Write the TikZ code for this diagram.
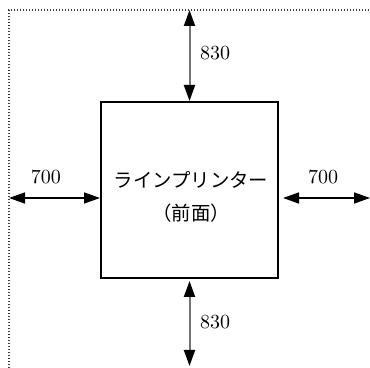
\documentclass[tikz,border=0pt]{standalone}
\usepackage{fontspec}
\newfontfamily\cjk{Noto Sans CJK JP}
\usetikzlibrary{positioning, arrows.meta}
\tikzset{box/.style = {draw, line width=1pt, minimum width=88.5pt, minimum height=88pt, inner sep=0pt},
         dimh/.style = {line width=0.8pt, {Triangle[length=8pt,width=5.5pt]}-{Triangle[length=8pt,width=5.5pt]}},
         dimv/.style = {line width=1pt, black!55, {Triangle[length=8pt,width=5.5pt,black]}-{Triangle[length=8pt,width=5.5pt,black]}},
         dim/.style = {font=\fontsize{10}{12}\selectfont, inner sep=0pt}}

\begin{document}
\begin{tikzpicture}[x=0.5pt, y=-0.5pt]
                    \useasboundingbox (0,0) rectangle (370,368);
                    \draw [black!75, line width=0.6pt, dash pattern=on 0.5pt off 1pt] (9,368) -- (9,10) -- (370,10);

                    \node [box] (printer) at (189.5,190) {};
                    \node [align=center, inner sep=0pt, font=\cjk\fontsize{9.7}{16.5}\selectfont] (printerlabel) at (191,197) {ラインプリンター\\（前面）};

                    \coordinate (topend)    at (189.5,10);
                    \coordinate (bottomend) at (189.5,366);
                    \coordinate (leftend)   at (9,198);
                    \coordinate (rightend)  at (370,198);

                    \draw [dimv] (topend) -- (printer.north);
                    \draw [dimv] ([yshift=-1pt]printer.south) -- (bottomend);
                    \draw [dimh] (leftend) -- (printer.west |- leftend);
                    \draw [dimh] ([xshift=2pt]printer.east |- rightend) -- (rightend);

                    \node [dim] (toplabel)    at (215,53)  {830};
                    \node [dim] (bottomlabel) at (215,322) {830};
                    \node [dim] (leftlabel)   at (46,177)  {700};
                    \node [dim] (rightlabel)  at (323,177) {700};
                \end{tikzpicture}
\end{document}
